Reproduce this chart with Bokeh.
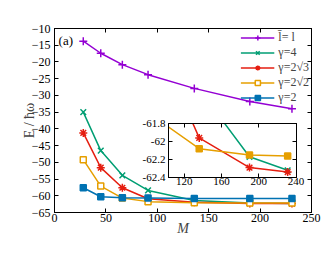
from bokeh.plotting import figure
from bokeh.models import Range1d, LinearAxis, Legend, LegendItem, Label, FixedTicker, PrintfTickFormatter
from bokeh.layouts import column
from bokeh.embed import file_html
from bokeh.resources import INLINE

# ---- data ----
M = [28, 45, 66, 91, 136, 190, 231]
E_lbar = [-13.8, -17.4, -20.8, -23.8, -27.9, -31.8, -34.0]
E_g4 = [-35.0, -46.5, -53.9, -58.4, -61.42, -62.17, -62.32]
E_g2r3 = [-41.2, -51.6, -57.6, -60.9, -61.96, -62.29, -62.34]
E_g2r2 = [-49.2, -57.1, -60.7, -61.75, -62.08, -62.15, -62.16]
E_g2 = [-57.6, -60.3, -60.6, -60.7, -60.85, -60.85, -60.85]

labels = ["l\u0304= l", "\u03b3=4", "\u03b3=2\u221a3", "\u03b3=2\u221a2", "\u03b3=2"]
colors = ["#9400D3", "#009E73", "#E51E10", "#E69F00", "#0072B2"]
markers = ["cross", "x", "asterisk", "square", "square"]
fills = [None, None, None, "white", "#0072B2"]
series = [E_lbar, E_g4, E_g2r3, E_g2r2, E_g2]

x_ticks = [0, 50, 100, 150, 200, 250]
y_ticks = [-65, -60, -55, -50, -45, -40, -35, -30, -25, -20, -15, -10]
in_x_ticks = [120, 160, 200, 240]
in_y_ticks = [-62.4, -62.2, -62.0, -61.8]

FONT = "Liberation Serif"


def style_axis(ax, size, ticks):
    ax.major_tick_in = 4
    ax.major_tick_out = 0
    ax.minor_tick_line_color = None
    ax.axis_line_color = "black"
    ax.major_label_text_font = FONT
    ax.major_label_text_font_size = size
    ax.major_label_text_color = "black"
    ax.axis_label_text_font = FONT
    ax.ticker = FixedTicker(ticks=ticks)


def mirror_axis(ticks):
    ax = LinearAxis(ticker=FixedTicker(ticks=[], minor_ticks=ticks))
    ax.minor_tick_in = 4
    ax.minor_tick_out = 0
    ax.minor_tick_line_color = "black"
    ax.major_tick_line_color = None
    ax.axis_line_color = "black"
    return ax


# ---- main figure ----
p = figure(frame_width=257, frame_height=184,
           min_border_left=54, min_border_right=19, min_border_top=28, min_border_bottom=43,
           x_range=Range1d(0, 250), y_range=Range1d(-65, -10),
           output_backend="svg", toolbar_location=None)
p.xgrid.grid_line_color = None
p.ygrid.grid_line_color = None
p.outline_line_color = "black"
p.outline_line_width = 1
p.background_fill_color = "white"
p.border_fill_color = "white"

style_axis(p.xaxis[0], "12px", x_ticks)
style_axis(p.yaxis[0], "12px", y_ticks)
p.xaxis[0].major_label_standoff = 1
p.yaxis[0].major_label_standoff = 4
p.xaxis[0].axis_label = "M"
p.xaxis[0].axis_label_text_font_style = "italic"
p.xaxis[0].axis_label_text_font_size = "14px"
p.xaxis[0].axis_label_standoff = -4
p.yaxis[0].axis_label = "E / \u0127\u03c9"
p.yaxis[0].axis_label_text_font_style = "normal"
p.yaxis[0].axis_label_text_font_size = "14px"
p.yaxis[0].axis_label_standoff = -8

p.add_layout(mirror_axis(x_ticks), "above")
p.add_layout(mirror_axis(y_ticks), "right")

items = []
for lab, c, mk, fc, ys in zip(labels, colors, markers, fills, series):
    r1 = p.line(M, ys, line_color=c, line_width=1.5)
    r2 = p.scatter(M, ys, marker=mk, size=8 if mk != "square" else 6,
                   line_color=c, line_width=1.5,
                   fill_color=fc if fc else c)
    items.append(LegendItem(label=lab, renderers=[r1, r2]))

legend = Legend(items=items, location="top_right")
legend.label_text_font = FONT
legend.label_text_font_size = "12px"
legend.glyph_width = 34
legend.glyph_height = 13
legend.label_height = 13
legend.spacing = 0
legend.padding = 2
legend.margin = 2
legend.label_standoff = 4
legend.border_line_color = None
legend.background_fill_alpha = 0
p.add_layout(legend)

p.add_layout(Label(x=4, y=-13.6, text="(a)", text_baseline="middle",
                   text_font=FONT, text_font_size="13px", text_color="black"))

# ---- inset ----
q = figure(frame_width=128, frame_height=54,
           min_border_left=54, min_border_right=19, min_border_top=10, min_border_bottom=20,
           x_range=Range1d(103, 240.5), y_range=Range1d(-62.4, -61.8),
           output_backend="svg", toolbar_location=None)
q.xgrid.grid_line_color = None
q.ygrid.grid_line_color = None
q.outline_line_color = "black"
q.background_fill_color = "white"
q.border_fill_alpha = 0
style_axis(q.xaxis[0], "11px", in_x_ticks)
style_axis(q.yaxis[0], "11px", in_y_ticks)
q.xaxis[0].major_label_standoff = 0
q.yaxis[0].major_label_standoff = 3
q.yaxis[0].formatter = PrintfTickFormatter(format="%g")
q.add_layout(mirror_axis(in_x_ticks), "above")
q.add_layout(mirror_axis(in_y_ticks), "right")

for c, mk, ys in zip(colors[1:4], ["x", "asterisk", "square"], series[1:4]):
    q.line(M, ys, line_color=c, line_width=1.5)
    q.scatter(M, ys, marker=mk, size=8 if mk != "square" else 6,
              line_color=c, line_width=1.5, fill_color=c)

q.margin = (-142, 0, 0, 114)

layout = column(p, q)
open("out.html", "w").write(file_html(layout, INLINE))
